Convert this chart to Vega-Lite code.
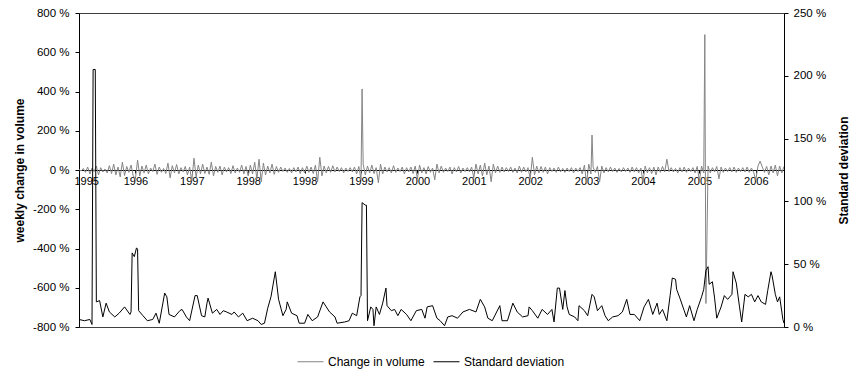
{
"$schema": "https://vega.github.io/schema/vega-lite/v6.json",
"width": 705, "height": 314,
"autosize": {"type": "none"},
"padding": {"left": 79, "top": 13, "right": 65, "bottom": 43},
"background": "white",
"config": {
  "font": "Liberation Sans",
  "view": {"stroke": "#404040", "strokeWidth": 1},
  "axis": {"labelFont": "Liberation Sans", "labelFontSize": 11.5, "labelColor": "#000", "titleFont": "Liberation Sans", "titleFontSize": 12, "titleFontWeight": "bold", "titleColor": "#000", "domainColor": "#000", "tickColor": "#000", "grid": false},
  "legend": {"labelFont": "Liberation Sans", "labelFontSize": 12, "labelColor": "#000"}
},
"datasets": {
"chg": [
{"w":0,"v":3},{"w":2,"v":-5},{"w":4,"v":8},{"w":6,"v":-12},{"w":8,"v":15},{"w":10,"v":-20},{"w":12,"v":10},{"w":14,"v":-8},{"w":16,"v":20},{"w":18,"v":-25},{"w":20,"v":12},{"w":22,"v":-10},{"w":24,"v":5},{"w":26,"v":-15},{"w":28,"v":22},{"w":30,"v":-18},{"w":32,"v":30},{"w":34,"v":-25},{"w":36,"v":15},{"w":38,"v":-35},{"w":40,"v":40},{"w":42,"v":-28},{"w":44,"v":18},{"w":46,"v":-12},{"w":48,"v":25},{"w":50,"v":-30},
{"w":52,"v":-45},{"w":54,"v":50},{"w":56,"v":-30},{"w":58,"v":20},{"w":60,"v":-15},{"w":62,"v":25},{"w":64,"v":-20},{"w":66,"v":10},{"w":68,"v":-8},{"w":70,"v":30},{"w":72,"v":-22},{"w":74,"v":15},{"w":76,"v":-12},{"w":78,"v":8},{"w":80,"v":-18},{"w":82,"v":35},{"w":84,"v":-40},{"w":86,"v":22},{"w":88,"v":-15},{"w":90,"v":28},{"w":92,"v":-20},{"w":94,"v":12},{"w":96,"v":-10},{"w":98,"v":18},{"w":100,"v":-25},{"w":102,"v":15},
{"w":104,"v":-55},{"w":106,"v":60},{"w":108,"v":-35},{"w":110,"v":25},{"w":112,"v":-20},{"w":114,"v":30},{"w":116,"v":-18},{"w":118,"v":15},{"w":120,"v":-22},{"w":122,"v":40},{"w":124,"v":-30},{"w":126,"v":18},{"w":128,"v":-12},{"w":130,"v":20},{"w":132,"v":-25},{"w":134,"v":15},{"w":136,"v":-10},{"w":138,"v":12},{"w":140,"v":-18},{"w":142,"v":22},{"w":144,"v":-15},{"w":146,"v":10},{"w":148,"v":-12},{"w":150,"v":25},{"w":152,"v":-20},{"w":154,"v":18},
{"w":156,"v":-30},{"w":158,"v":25},{"w":160,"v":-20},{"w":162,"v":40},{"w":164,"v":-45},{"w":166,"v":55},{"w":168,"v":-60},{"w":170,"v":35},{"w":172,"v":-25},{"w":174,"v":20},{"w":176,"v":-15},{"w":178,"v":30},{"w":180,"v":-22},{"w":182,"v":18},{"w":184,"v":-12},{"w":186,"v":15},{"w":188,"v":-8},{"w":190,"v":10},{"w":192,"v":-12},{"w":194,"v":8},{"w":196,"v":-15},{"w":198,"v":12},{"w":200,"v":-10},{"w":202,"v":15},{"w":204,"v":-18},{"w":206,"v":12},
{"w":208,"v":-15},{"w":210,"v":20},{"w":212,"v":-12},{"w":214,"v":15},{"w":216,"v":-18},{"w":218,"v":25},{"w":220,"v":-60},{"w":222,"v":65},{"w":224,"v":-30},{"w":226,"v":20},{"w":228,"v":-15},{"w":230,"v":18},{"w":232,"v":-12},{"w":234,"v":22},{"w":236,"v":-10},{"w":238,"v":15},{"w":240,"v":-8},{"w":242,"v":12},{"w":244,"v":-15},{"w":246,"v":10},{"w":248,"v":-8},{"w":250,"v":12},{"w":252,"v":-10},{"w":254,"v":15},{"w":256,"v":-20},{"w":258,"v":18},
{"w":260,"v":-50},{"w":261,"v":413},{"w":262,"v":30},{"w":264,"v":-25},{"w":266,"v":20},{"w":268,"v":-15},{"w":270,"v":25},{"w":272,"v":-18},{"w":274,"v":12},{"w":276,"v":-65},{"w":278,"v":30},{"w":280,"v":-20},{"w":282,"v":15},{"w":284,"v":-10},{"w":286,"v":12},{"w":288,"v":-15},{"w":290,"v":22},{"w":292,"v":-12},{"w":294,"v":10},{"w":296,"v":-8},{"w":298,"v":15},{"w":300,"v":-20},{"w":302,"v":12},{"w":304,"v":-10},{"w":306,"v":15},{"w":308,"v":-18},{"w":310,"v":20},
{"w":312,"v":-45},{"w":314,"v":25},{"w":316,"v":-15},{"w":318,"v":12},{"w":320,"v":-20},{"w":322,"v":18},{"w":324,"v":-12},{"w":326,"v":10},{"w":328,"v":-50},{"w":330,"v":30},{"w":332,"v":-15},{"w":334,"v":20},{"w":336,"v":-12},{"w":338,"v":10},{"w":340,"v":-8},{"w":342,"v":15},{"w":344,"v":-20},{"w":346,"v":12},{"w":348,"v":-10},{"w":350,"v":18},{"w":352,"v":-15},{"w":354,"v":10},{"w":356,"v":-8},{"w":358,"v":12},{"w":360,"v":-10},{"w":362,"v":15},
{"w":364,"v":-40},{"w":366,"v":30},{"w":368,"v":-20},{"w":370,"v":25},{"w":372,"v":-30},{"w":374,"v":35},{"w":376,"v":-25},{"w":378,"v":20},{"w":380,"v":-60},{"w":382,"v":30},{"w":384,"v":-15},{"w":386,"v":20},{"w":388,"v":-12},{"w":390,"v":15},{"w":392,"v":-10},{"w":394,"v":12},{"w":396,"v":-8},{"w":398,"v":15},{"w":400,"v":-12},{"w":402,"v":10},{"w":404,"v":-15},{"w":406,"v":20},{"w":408,"v":-12},{"w":410,"v":15},{"w":412,"v":-10},{"w":414,"v":12},
{"w":416,"v":-45},{"w":418,"v":65},{"w":420,"v":-25},{"w":422,"v":20},{"w":424,"v":-15},{"w":426,"v":18},{"w":428,"v":-12},{"w":430,"v":15},{"w":432,"v":-20},{"w":434,"v":12},{"w":436,"v":-8},{"w":438,"v":10},{"w":440,"v":-12},{"w":442,"v":15},{"w":444,"v":-10},{"w":446,"v":8},{"w":448,"v":-12},{"w":450,"v":10},{"w":452,"v":-8},{"w":454,"v":12},{"w":456,"v":-15},{"w":458,"v":10},{"w":460,"v":-8},{"w":462,"v":12},{"w":464,"v":-20},{"w":466,"v":25},
{"w":468,"v":-70},{"w":470,"v":30},{"w":472,"v":-20},{"w":473,"v":178},{"w":474,"v":15},{"w":476,"v":-12},{"w":478,"v":18},{"w":480,"v":-60},{"w":482,"v":20},{"w":484,"v":-15},{"w":486,"v":12},{"w":488,"v":-10},{"w":490,"v":15},{"w":492,"v":-8},{"w":494,"v":10},{"w":496,"v":-12},{"w":498,"v":8},{"w":500,"v":-10},{"w":502,"v":12},{"w":504,"v":-8},{"w":506,"v":10},{"w":508,"v":-12},{"w":510,"v":15},{"w":512,"v":-10},{"w":514,"v":12},{"w":516,"v":-15},{"w":518,"v":10},
{"w":520,"v":-60},{"w":522,"v":20},{"w":524,"v":-15},{"w":526,"v":12},{"w":528,"v":-18},{"w":530,"v":15},{"w":532,"v":-25},{"w":534,"v":15},{"w":536,"v":-12},{"w":538,"v":18},{"w":540,"v":-10},{"w":542,"v":55},{"w":544,"v":-8},{"w":546,"v":12},{"w":548,"v":-10},{"w":550,"v":8},{"w":552,"v":-15},{"w":554,"v":12},{"w":556,"v":-10},{"w":558,"v":15},{"w":560,"v":-12},{"w":562,"v":10},{"w":564,"v":-8},{"w":566,"v":12},{"w":568,"v":-15},{"w":570,"v":18},
{"w":572,"v":-55},{"w":574,"v":20},{"w":576,"v":-15},{"w":577,"v":690},{"w":578,"v":-680},{"w":580,"v":20},{"w":582,"v":-15},{"w":584,"v":12},{"w":586,"v":-10},{"w":588,"v":18},{"w":590,"v":-45},{"w":592,"v":15},{"w":594,"v":-12},{"w":596,"v":10},{"w":598,"v":-8},{"w":600,"v":12},{"w":602,"v":-10},{"w":604,"v":15},{"w":606,"v":-12},{"w":608,"v":10},{"w":610,"v":-8},{"w":612,"v":12},{"w":614,"v":-10},{"w":616,"v":15},{"w":618,"v":-12},{"w":620,"v":10},{"w":622,"v":-12},
{"w":624,"v":-50},{"w":626,"v":20},{"w":628,"v":45},{"w":630,"v":15},{"w":632,"v":-12},{"w":634,"v":18},{"w":636,"v":-25},{"w":638,"v":20},{"w":640,"v":-15},{"w":642,"v":25},{"w":644,"v":-30},{"w":646,"v":20},{"w":648,"v":-15},{"w":650,"v":18}
],
"sd": [
{"w":0,"v":6},{"w":5,"v":5},{"w":10,"v":6},{"w":12,"v":2},{"w":13,"v":205},{"w":15,"v":205},{"w":16,"v":20},{"w":19,"v":21},{"w":22,"v":8},{"w":25,"v":19},{"w":28,"v":12},{"w":33,"v":8},{"w":37,"v":11},{"w":42,"v":16},{"w":47,"v":10},{"w":48,"v":12},{"w":49,"v":59},{"w":51,"v":56},{"w":53,"v":63},{"w":54,"v":62},{"w":55,"v":13},{"w":59,"v":9},{"w":63,"v":5},{"w":68,"v":6},{"w":71,"v":11},{"w":74,"v":3},{"w":79,"v":27},{"w":81,"v":24},{"w":83,"v":10},{"w":88,"v":8},{"w":93,"v":13},{"w":95,"v":14},{"w":99,"v":8},{"w":102,"v":5},{"w":107,"v":25},{"w":109,"v":25},{"w":113,"v":9},{"w":116,"v":8},{"w":118,"v":19},{"w":119,"v":23},{"w":123,"v":11},{"w":127,"v":14},{"w":130,"v":10},{"w":133,"v":13},{"w":136,"v":12},{"w":141,"v":10},{"w":143,"v":12},{"w":147,"v":8},{"w":151,"v":11},{"w":155,"v":5},{"w":160,"v":7},{"w":165,"v":5},{"w":168,"v":2},{"w":171,"v":3},{"w":174,"v":15},{"w":177,"v":24},{"w":181,"v":44},{"w":184,"v":22},{"w":188,"v":9},{"w":191,"v":14},{"w":192,"v":20},{"w":196,"v":11},{"w":201,"v":9},{"w":203,"v":3},
{"w":208,"v":3},{"w":211,"v":10},{"w":215,"v":5},{"w":220,"v":8},{"w":225,"v":20},{"w":228,"v":16},{"w":231,"v":12},{"w":236,"v":8},{"w":238,"v":3},{"w":245,"v":4},{"w":249,"v":5},{"w":252,"v":11},{"w":256,"v":9},{"w":259,"v":24},{"w":260,"v":25},{"w":261,"v":99},{"w":264,"v":97},{"w":265,"v":97},{"w":266,"v":5},{"w":269,"v":16},{"w":271,"v":14},{"w":272,"v":1},{"w":274,"v":16},{"w":277,"v":10},{"w":280,"v":19},{"w":283,"v":31},{"w":284,"v":17},{"w":288,"v":13},{"w":291,"v":14},{"w":294,"v":9},{"w":297,"v":14},{"w":302,"v":10},{"w":306,"v":5},{"w":311,"v":13},{"w":316,"v":14},{"w":319,"v":7},{"w":321,"v":16},{"w":326,"v":17},{"w":330,"v":7},{"w":333,"v":5},{"w":337,"v":1},{"w":340,"v":8},{"w":344,"v":9},{"w":349,"v":7},{"w":354,"v":12},{"w":360,"v":14},{"w":366,"v":12},{"w":370,"v":22},{"w":374,"v":16},{"w":377,"v":7},{"w":381,"v":5},{"w":388,"v":17},{"w":390,"v":5},{"w":395,"v":5},{"w":400,"v":19},{"w":404,"v":12},{"w":409,"v":8},{"w":414,"v":9},{"w":415,"v":16},{"w":418,"v":13},{"w":423,"v":7},{"w":427,"v":14},{"w":432,"v":10},{"w":436,"v":14},{"w":438,"v":4},{"w":441,"v":31},{"w":443,"v":31},{"w":446,"v":14},{"w":448,"v":29},{"w":450,"v":16},{"w":452,"v":10},{"w":457,"v":8},{"w":460,"v":5},
{"w":461,"v":17},{"w":466,"v":13},{"w":469,"v":9},{"w":473,"v":26},{"w":475,"v":24},{"w":478,"v":13},{"w":482,"v":17},{"w":485,"v":9},{"w":488,"v":5},{"w":492,"v":8},{"w":497,"v":9},{"w":501,"v":12},{"w":505,"v":22},{"w":508,"v":10},{"w":512,"v":10},{"w":517,"v":5},{"w":521,"v":16},{"w":525,"v":22},{"w":529,"v":10},{"w":533,"v":19},{"w":535,"v":10},{"w":538,"v":14},{"w":542,"v":5},{"w":545,"v":25},{"w":547,"v":39},{"w":550,"v":38},{"w":551,"v":30},{"w":554,"v":23},{"w":558,"v":13},{"w":560,"v":8},{"w":563,"v":17},{"w":567,"v":5},{"w":570,"v":14},{"w":574,"v":24},{"w":576,"v":30},{"w":578,"v":45},{"w":580,"v":48},{"w":581,"v":34},{"w":584,"v":36},{"w":586,"v":23},{"w":588,"v":7},{"w":592,"v":16},{"w":595,"v":25},{"w":598,"v":22},{"w":602,"v":26},{"w":603,"v":44},{"w":606,"v":35},{"w":609,"v":16},{"w":611,"v":4},{"w":614,"v":26},{"w":617,"v":24},{"w":620,"v":26},{"w":623,"v":20},{"w":626,"v":25},{"w":629,"v":20},{"w":633,"v":18},{"w":635,"v":29},{"w":638,"v":44},{"w":639,"v":41},{"w":642,"v":26},{"w":644,"v":20},{"w":646,"v":24},{"w":649,"v":6},{"w":650,"v":3}
]
},
"layer": [
  {
    "data": {"name": "chg"},
    "mark": {"type": "line", "strokeWidth": 1, "clip": true},
    "encoding": {
      "x": {"field": "w", "type": "quantitative", "scale": {"domain": [0, 650], "nice": false, "zero": false},
        "axis": {"title": null, "orient": "bottom", "offset": -157, "values": [0,52,104,156,208,260,312,364,416,468,520,572,624], "labelExpr": "datum.value <= 208 ? '' + min(1995 + datum.value/52, 1998) : '' + (1994 + datum.value/52)", "labelFontSize": 11, "tickSize": 3, "labelPadding": 2, "labelFlush": 1, "labelFlushOffset": 5, "domainColor": "#000"}},
      "y": {"field": "v", "type": "quantitative", "scale": {"domain": [-800, 800], "nice": false},
        "axis": {"title": "weekly change in volume", "orient": "left", "values": [-800,-600,-400,-200,0,200,400,600,800], "labelExpr": "datum.value + ' %'", "tickSize": 4, "labelPadding": 6, "titleAngle": 270, "titleX": -60, "titleY": 157, "titleAlign": "center", "titleBaseline": "middle"}},
      "color": {"datum": "Change in volume", "type": "nominal",
        "scale": {"domain": ["Change in volume", "Standard deviation"], "range": ["#858585", "#000000"]},
        "legend": {"title": null, "orient": "none", "legendX": 218, "legendY": 335, "direction": "horizontal", "symbolType": "stroke", "symbolSize": 676, "symbolStrokeWidth": 1, "labelOffset": 4, "columnPadding": 6, "padding": 0}}
    }
  },
  {
    "data": {"name": "sd"},
    "mark": {"type": "line", "strokeWidth": 1, "clip": true},
    "encoding": {
      "x": {"field": "w", "type": "quantitative"},
      "y": {"field": "v", "type": "quantitative", "scale": {"domain": [0, 250], "nice": false},
        "axis": {"title": "Standard deviation", "orient": "right", "values": [0,50,100,150,200,250], "labelExpr": "datum.value + ' %'", "tickSize": 4, "labelPadding": 5, "titleAngle": 270, "titleX": 59, "titleY": 157, "titleAlign": "center", "titleBaseline": "middle"}},
      "color": {"datum": "Standard deviation", "type": "nominal"}
    }
  }
],
"resolve": {"scale": {"y": "independent"}}
}
